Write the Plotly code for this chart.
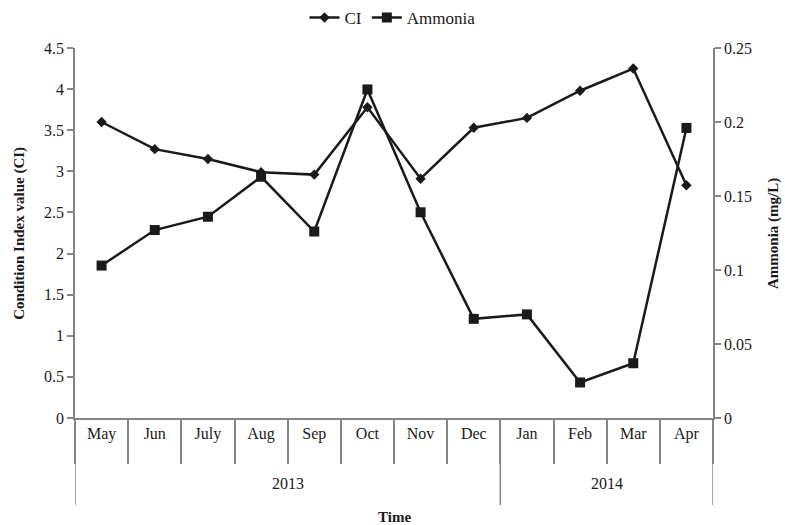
import plotly.graph_objects as go

months = ["May", "Jun", "July", "Aug", "Sep", "Oct", "Nov", "Dec",
          "Jan", "Feb", "Mar", "Apr"]
years = ["2013", "2014"]
months_per_year = [8, 4]
ci_values = [3.60, 3.27, 3.15, 2.99, 2.96, 3.78, 2.91, 3.53, 3.65, 3.98, 4.25, 2.83]
ammonia_values = [0.103, 0.127, 0.136, 0.163, 0.126, 0.222, 0.139, 0.067,
                  0.070, 0.024, 0.037, 0.196]
ci_ticks = [0, 0.5, 1, 1.5, 2, 2.5, 3, 3.5, 4, 4.5]
ammonia_ticks = [0, 0.05, 0.1, 0.15, 0.2, 0.25]

SERIF = "Liberation Serif, Times New Roman, serif"
LINE = "#1a1a1a"
AXIS = "#868686"
TEXT = "#1a1a1a"
TICK_SIZE = 16

fig = go.Figure()
fig.add_trace(go.Scatter(
    x=months, y=ci_values, name="CI", mode="lines+markers",
    line=dict(color=LINE, width=2.5),
    marker=dict(symbol="diamond", size=8, color=LINE),
))
fig.add_trace(go.Scatter(
    x=months, y=ammonia_values, name="Ammonia", mode="lines+markers",
    yaxis="y2",
    line=dict(color=LINE, width=2.5),
    marker=dict(symbol="square", size=10, color=LINE),
))

# Year row: labels centred under each group, dividers at group edges
shapes = []
annotations = []
start = 0
edges = [-0.5]
for year, n in zip(years, months_per_year):
    annotations.append(dict(
        text=year, xref="x", yref="paper", x=start + (n - 1) / 2, y=-0.176,
        xanchor="center", yanchor="middle", showarrow=False,
        font=dict(family=SERIF, size=TICK_SIZE, color=TEXT)))
    start += n
    edges.append(start - 0.5)
for e in edges:
    shapes.append(dict(type="line", xref="x", yref="paper", x0=e, x1=e,
                       y0=0, y1=-0.235, line=dict(color=AXIS, width=1.5)))

annotations += [
    dict(text="<b>Condition Index value (CI)</b>", textangle=-90,
         xref="paper", yref="paper", x=-0.088, y=0.5,
         xanchor="center", yanchor="middle", showarrow=False,
         font=dict(family=SERIF, size=15, color=TEXT)),
    dict(text="<b>Ammonia (mg/L)</b>", textangle=-90,
         xref="paper", yref="paper", x=1.094, y=0.5,
         xanchor="center", yanchor="middle", showarrow=False,
         font=dict(family=SERIF, size=15, color=TEXT)),
    dict(text="<b>Time</b>",
         xref="paper", yref="paper", x=0.5, y=-0.268,
         xanchor="center", yanchor="middle", showarrow=False,
         font=dict(family=SERIF, size=15, color=TEXT)),
]

fig.update_layout(
    width=785, height=525,
    margin=dict(l=75, r=72, t=48, b=107, autoexpand=False),
    paper_bgcolor="white", plot_bgcolor="white",
    font=dict(family=SERIF, size=TICK_SIZE, color=TEXT),
    showlegend=True,
    legend=dict(orientation="h", x=0.5, xanchor="center", xref="container",
                y=1.0, yanchor="top", yref="container",
                font=dict(family=SERIF, size=17, color=TEXT)),
    xaxis=dict(
        type="category", range=[-0.5, len(months) - 0.5],
        showline=True, linecolor=AXIS, linewidth=1.5,
        tickson="boundaries", ticks="outside", ticklen=44, tickcolor=AXIS,
        tickwidth=1.5, showgrid=False, zeroline=False,
        tickfont=dict(family=SERIF, size=TICK_SIZE, color=TEXT),
    ),
    yaxis=dict(
        range=[0, 4.5], tickvals=ci_ticks, ticktext=[f"{v:g}" for v in ci_ticks],
        showline=True, linecolor=AXIS, linewidth=1.5,
        ticks="outside", ticklen=6, tickcolor=AXIS, tickwidth=1.5,
        showgrid=False, zeroline=False,
        tickfont=dict(family=SERIF, size=TICK_SIZE, color=TEXT),
    ),
    yaxis2=dict(
        overlaying="y", side="right",
        range=[0, 0.25], tickvals=ammonia_ticks,
        ticktext=[f"{v:g}" for v in ammonia_ticks],
        showline=True, linecolor=AXIS, linewidth=1.5,
        ticks="outside", ticklen=6, tickcolor=AXIS, tickwidth=1.5,
        showgrid=False, zeroline=False,
        tickfont=dict(family=SERIF, size=TICK_SIZE, color=TEXT),
    ),
    shapes=shapes,
    annotations=annotations,
)

fig.write_html("out.html")
